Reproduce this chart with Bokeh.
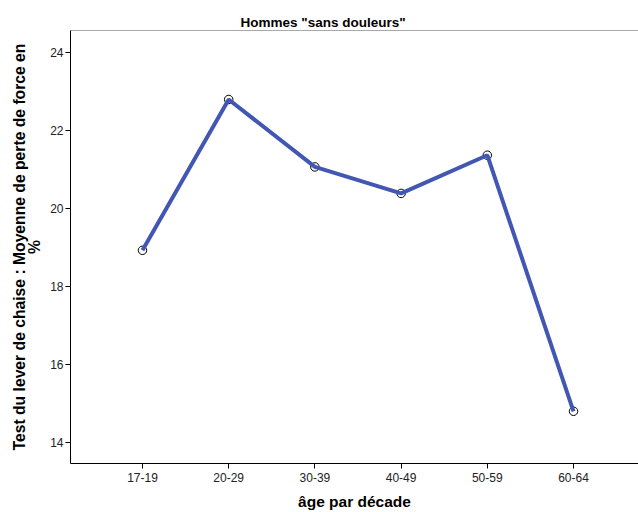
from bokeh.plotting import figure
from bokeh.models import FixedTicker, Range1d, Span
from bokeh.embed import file_html
from bokeh.resources import INLINE

categories = ["17-19", "20-29", "30-39", "40-49", "50-59", "60-64"]
values = [18.92, 22.79, 21.06, 20.38, 21.36, 14.79]
y_ticks = [14, 16, 18, 20, 22, 24]

xs = list(range(len(categories)))

p = figure(width=638, height=512, output_backend="svg", toolbar_location=None,
           x_range=Range1d(-0.835, 5.754), y_range=Range1d(13.45, 24.56),
           min_border_left=70, min_border_right=0, min_border_top=30, min_border_bottom=49)

p.title.text = 'Hommes "sans douleurs"'
p.title.text_font = "Liberation Sans"
p.title.text_font_size = "13.5px"
p.title.text_font_style = "bold"
p.title.text_color = "black"
p.title.align = "left"
p.title.offset = 170
p.title.standoff = 2

p.outline_line_color = None
p.xgrid.visible = False
p.ygrid.visible = False
p.background_fill_color = "white"
p.border_fill_color = "white"

p.add_layout(Span(location=24.56, dimension="width", line_color="#555555", line_width=1))

for ax in (p.xaxis[0], p.yaxis[0]):
    ax.axis_line_color = "black"
    ax.axis_line_width = 1
    ax.major_tick_line_color = "black"
    ax.major_tick_out = 5
    ax.major_tick_in = 0
    ax.minor_tick_line_color = None
    ax.major_label_text_font = "Liberation Sans"
    ax.major_label_text_font_size = "12px"
    ax.major_label_text_color = "#222222"
    ax.axis_label_text_font = "Liberation Sans"
    ax.axis_label_text_font_style = "bold"
    ax.axis_label_text_color = "black"

p.xaxis.ticker = FixedTicker(ticks=xs)
p.xaxis.major_label_overrides = {i: c for i, c in enumerate(categories)}
p.xaxis.major_label_standoff = 4
p.xaxis.axis_label = "âge par décade"
p.xaxis.axis_label_text_font_size = "15.5px"
p.xaxis.axis_label_standoff = 8

p.yaxis.ticker = FixedTicker(ticks=y_ticks)
p.yaxis.major_label_standoff = 2
p.yaxis.axis_label = "Test du lever de chaise : Moyenne de perte de force en\n%"
p.yaxis.axis_label_text_font_size = "15.7px"
p.yaxis.axis_label_text_line_height = 0.9
p.yaxis.axis_label_standoff = 4

p.scatter(xs, values, size=8.5, marker="circle", fill_color="white", line_color="black", line_width=1)
p.line(xs, values, line_color="#4157b3", line_width=4)

open("out.html", "w").write(file_html(p, INLINE))
